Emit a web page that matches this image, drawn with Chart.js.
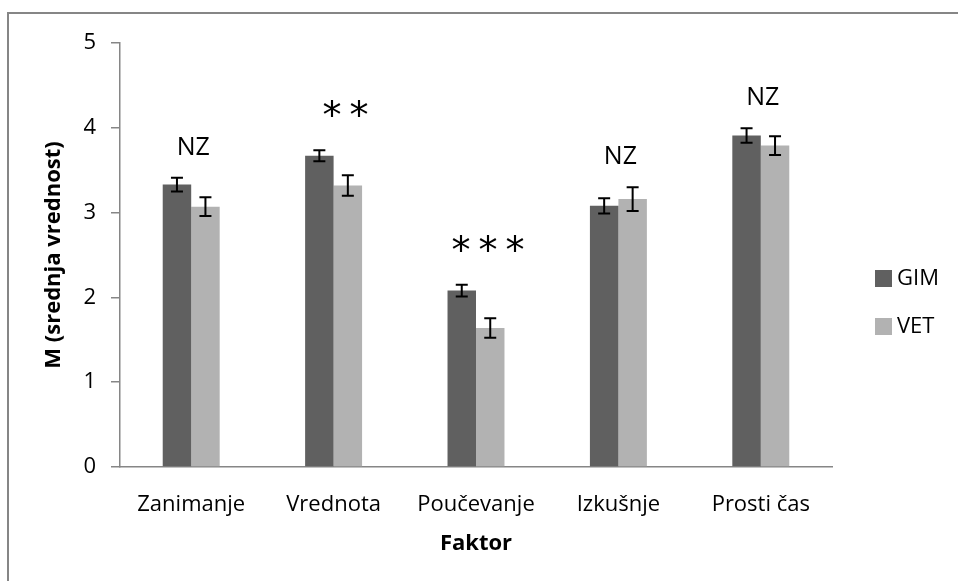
<!DOCTYPE html>
<html>
<head>
<meta charset="utf-8">
<script src="https://cdn.jsdelivr.net/npm/chart.js@4.4.1/dist/chart.umd.min.js"></script>
<style>
  html, body { margin: 0; padding: 0; background: #fff; }
  #wrap { position: relative; width: 958px; height: 581px; overflow: hidden; }
  #frame { position: absolute; left: 7px; top: 12px; width: 1000px; height: 1000px;
           border-top: 2px solid #868686; border-left: 2px solid #868686; pointer-events: none; }
  canvas { position: absolute; left: 0; top: 0; }
</style>
</head>
<body>
<div id="wrap">
  <canvas id="myChart" width="958" height="581"></canvas>
  <div id="frame"></div>
</div>
<script>
// ── données ──
const categories   = ['Zanimanje', 'Vrednota', 'Poučevanje', 'Izkušnje', 'Prosti čas'];
const gimValues    = [3.33, 3.67, 2.08, 3.08, 3.91];
const vetValues    = [3.07, 3.32, 1.64, 3.16, 3.79];
const gimErrors    = [0.08, 0.065, 0.07, 0.09, 0.085];
const vetErrors    = [0.11, 0.12, 0.115, 0.14, 0.11];
const significance = ['NZ', '**', '***', 'NZ', 'NZ'];
const yTicks       = [0, 1, 2, 3, 4, 5];

const FONT = '"Open Sans", "Noto Sans", sans-serif';

// error bars drawn on top of the bars
const errorBars = {
  id: 'errorBars',
  afterDatasetsDraw(chart) {
    const ctx = chart.ctx;
    const y = chart.scales.y;
    ctx.save();
    ctx.strokeStyle = '#000';
    ctx.lineWidth = 2;
    chart.data.datasets.forEach((ds, i) => {
      const meta = chart.getDatasetMeta(i);
      meta.data.forEach((bar, j) => {
        const top = y.getPixelForValue(ds.data[j] + ds.errors[j]);
        const bot = y.getPixelForValue(ds.data[j] - ds.errors[j]);
        ctx.beginPath();
        ctx.moveTo(bar.x, top); ctx.lineTo(bar.x, bot);
        ctx.moveTo(bar.x - 6, top); ctx.lineTo(bar.x + 6, top);
        ctx.moveTo(bar.x - 6, bot); ctx.lineTo(bar.x + 6, bot);
        ctx.stroke();
      });
    });
    ctx.restore();
  }
};

// NZ / asterisks above each group
const sigLabels = {
  id: 'sigLabels',
  afterDatasetsDraw(chart) {
    const ctx = chart.ctx;
    const x = chart.scales.x, y = chart.scales.y;
    ctx.save();
    ctx.fillStyle = '#000';
    ctx.textAlign = 'center';
    ctx.textBaseline = 'middle';
    significance.forEach((lab, j) => {
      let top = Infinity;
      chart.data.datasets.forEach(ds => {
        top = Math.min(top, y.getPixelForValue(ds.data[j] + ds.errors[j]));
      });
      const cx = x.getPixelForValue(j);
      if (lab.startsWith('*')) {
        ctx.font = '38px "DejaVu Sans"';
        const n = lab.length;
        for (let k = 0; k < n; k++) {
          ctx.fillText('*', cx + 12 + (k - (n - 1) / 2) * 27, top - 32);
        }
      } else {
        ctx.font = '25px ' + FONT;
        ctx.fillText(lab, cx + 2, top - 30);
      }
    });
    ctx.restore();
  }
};

// legend on the right
const sideLegend = {
  id: 'sideLegend',
  afterDraw(chart) {
    const ctx = chart.ctx;
    ctx.save();
    ctx.font = '22px ' + FONT;
    ctx.textBaseline = 'middle';
    ctx.textAlign = 'left';
    chart.data.datasets.forEach((ds, i) => {
      const cy = 278 + i * 48;
      ctx.fillStyle = ds.backgroundColor;
      ctx.fillRect(875, cy - 8, 17, 17);
      ctx.fillStyle = '#000';
      ctx.fillText(ds.label, 897, cy + 1);
    });
    ctx.restore();
  }
};

const ctx = document.getElementById('myChart').getContext('2d');
new Chart(ctx, {
  type: 'bar',
  data: {
    labels: categories,
    datasets: [
      { label: 'GIM', data: gimValues, errors: gimErrors, backgroundColor: '#606060' },
      { label: 'VET', data: vetValues, errors: vetErrors, backgroundColor: '#b2b2b2' }
    ]
  },
  options: {
    responsive: false,
    animation: false,
    devicePixelRatio: 1,
    layout: { padding: { top: 43, right: 126, bottom: 0, left: 0 } },
    datasets: { bar: { categoryPercentage: 0.4, barPercentage: 1.0 } },
    plugins: {
      legend: { display: false },
      tooltip: { enabled: false }
    },
    scales: {
      x: {
        afterFit: s => { s.height = 114; },
        grid: { display: false },
        border: { display: true, color: '#868686', width: 1.5 },
        ticks: { color: '#000', font: { family: FONT, size: 22 }, padding: 17, maxRotation: 0 },
        title: { display: true, text: 'Faktor', color: '#000',
                 font: { family: FONT, size: 22, weight: 'bold' }, padding: { top: 4, bottom: 24 } }
      },
      y: {
        min: 0, max: 5,
        afterFit: s => { s.width = 120; },
        afterBuildTicks: s => { s.ticks = yTicks.map(v => ({ value: v })); },
        grid: { drawOnChartArea: false, drawTicks: true, tickLength: 9, color: '#868686', lineWidth: 1.5 },
        border: { display: true, color: '#868686', width: 1.5 },
        ticks: { color: '#000', font: { family: FONT, size: 22 }, padding: 15 },
        title: { display: true, text: 'M (srednja vrednost)', color: '#000',
                 font: { family: FONT, size: 22, weight: 'bold' }, padding: { top: 41, bottom: 0 } }
      }
    }
  },
  plugins: [errorBars, sigLabels, sideLegend]
});
</script>
</body>
</html>
